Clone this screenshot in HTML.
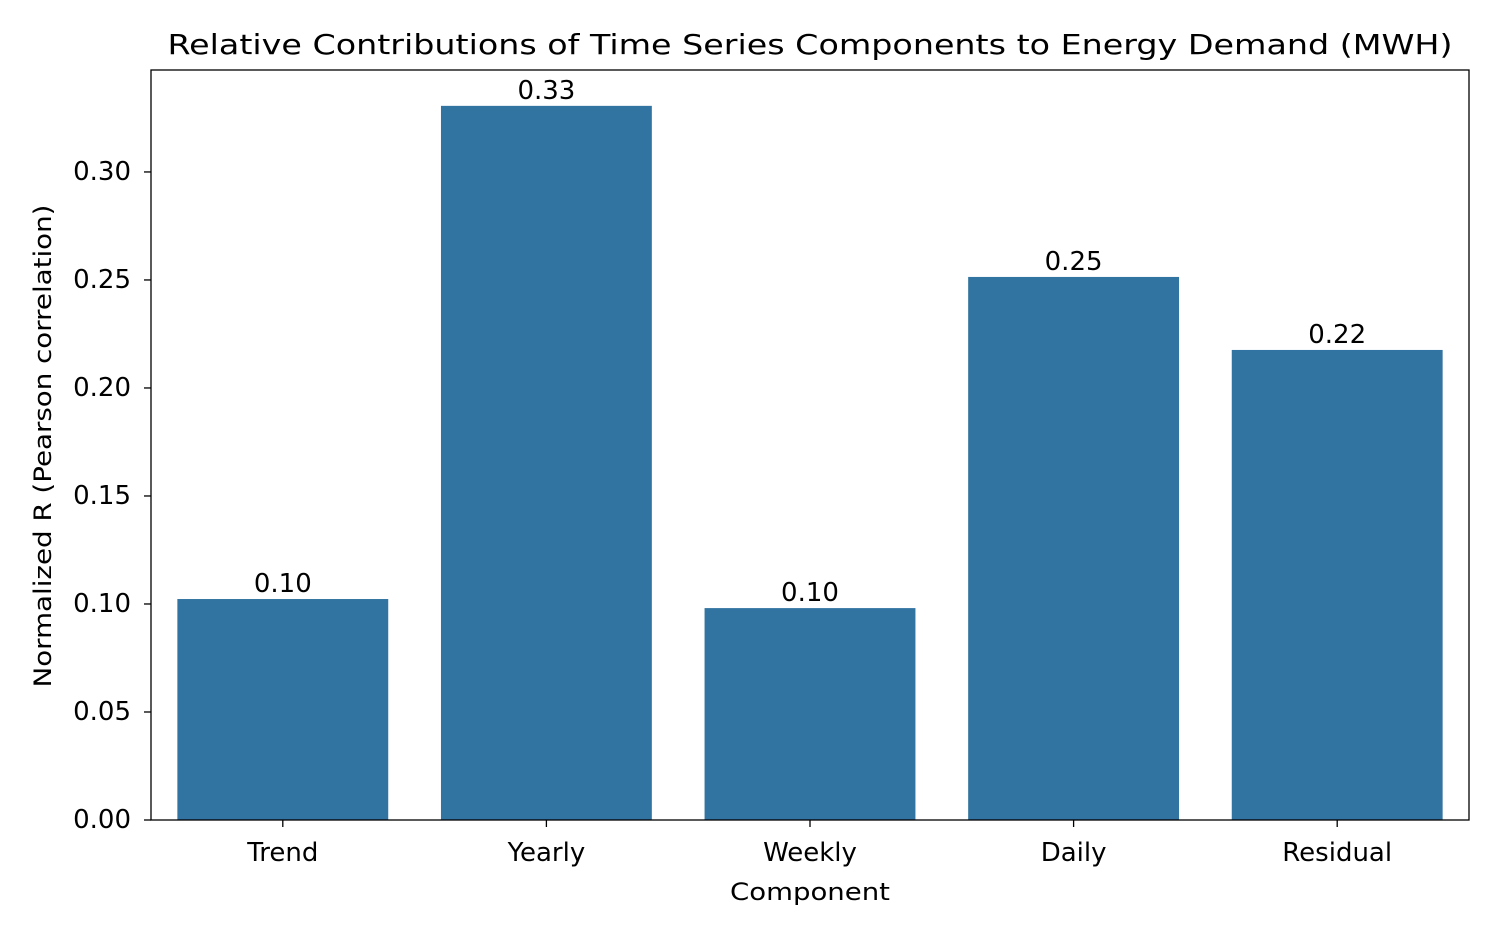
<!DOCTYPE html>
<html><head><meta charset="utf-8"><style>
html,body{margin:0;padding:0;background:#fff;}
svg text{font-family:"DejaVu Sans","Liberation Sans",sans-serif;fill:#000;}
</style></head><body>
<svg id="chart" width="1500" height="937" viewBox="0 0 1500 937" xmlns="http://www.w3.org/2000/svg">
<rect x="0" y="0" width="1500" height="937" fill="#fff"/>
<text x="810" y="54" font-size="28" text-anchor="middle" textLength="1285" lengthAdjust="spacingAndGlyphs">Relative Contributions of Time Series Components to Energy Demand (MWH)</text>
<g id="bars"></g>
<g id="yaxis"></g>
<g id="xaxis"></g>
<rect x="151" y="70" width="1318" height="750" fill="none" stroke="#000" stroke-width="1.3"/>
<text x="810" y="900" font-size="24" text-anchor="middle" textLength="160" lengthAdjust="spacingAndGlyphs">Component</text>
<text transform="translate(51,446) rotate(-90)" font-size="24" text-anchor="middle" textLength="483" lengthAdjust="spacingAndGlyphs">Normalized R (Pearson correlation)</text>
</svg>
<script>
const categories = ["Trend","Yearly","Weekly","Daily","Residual"];
const values = [0.1023,0.3306,0.0981,0.2514,0.2176];
const valueLabels = ["0.10","0.33","0.10","0.25","0.22"];
const yTicks = [0,0.05,0.10,0.15,0.20,0.25,0.30];
const yTickLabels = ["0.00","0.05","0.10","0.15","0.20","0.25","0.30"];

const NS="http://www.w3.org/2000/svg";
const L=151,R=1469,T=70,B=820,yMax=0.3472;
const y=v=>B-(v/yMax)*(B-T);
const band=(R-L)/categories.length;
const xc=i=>L+band*(i+0.5);
const bw=band*0.8;
const FS=26;
function mk(tag,attrs,parent){const e=document.createElementNS(NS,tag);for(const k in attrs)e.setAttribute(k,attrs[k]);parent.appendChild(e);return e;}
const gb=document.getElementById('bars'),gy=document.getElementById('yaxis'),gx=document.getElementById('xaxis');
categories.forEach((c,i)=>{
  const r=mk('rect',{x:xc(i)-bw/2,y:y(values[i]),width:bw,height:B-y(values[i]),fill:'#3274a1'},gb);
  
  
  const t=mk('text',{x:xc(i),y:y(values[i])-7,'font-size':FS,'text-anchor':'middle'},gb);
  t.textContent=valueLabels[i];
  
  
  const tk=mk('line',{x1:xc(i),x2:xc(i),y1:B,y2:B+7,stroke:'#000','stroke-width':1.3},gx);
  
  
  const tl=mk('text',{x:xc(i),y:B+41,'font-size':FS,'text-anchor':'middle'},gx);
  tl.textContent=c;
  
  
});
yTicks.forEach((v,i)=>{
  const tk=mk('line',{x1:L-7,x2:L,y1:y(v),y2:y(v),stroke:'#000','stroke-width':1.3},gy);
  
  
  const tl=mk('text',{x:L-20,y:y(v)+8,'font-size':FS,'text-anchor':'end'},gy);
  tl.textContent=yTickLabels[i];
  
  
});
</script>
</body></html>
